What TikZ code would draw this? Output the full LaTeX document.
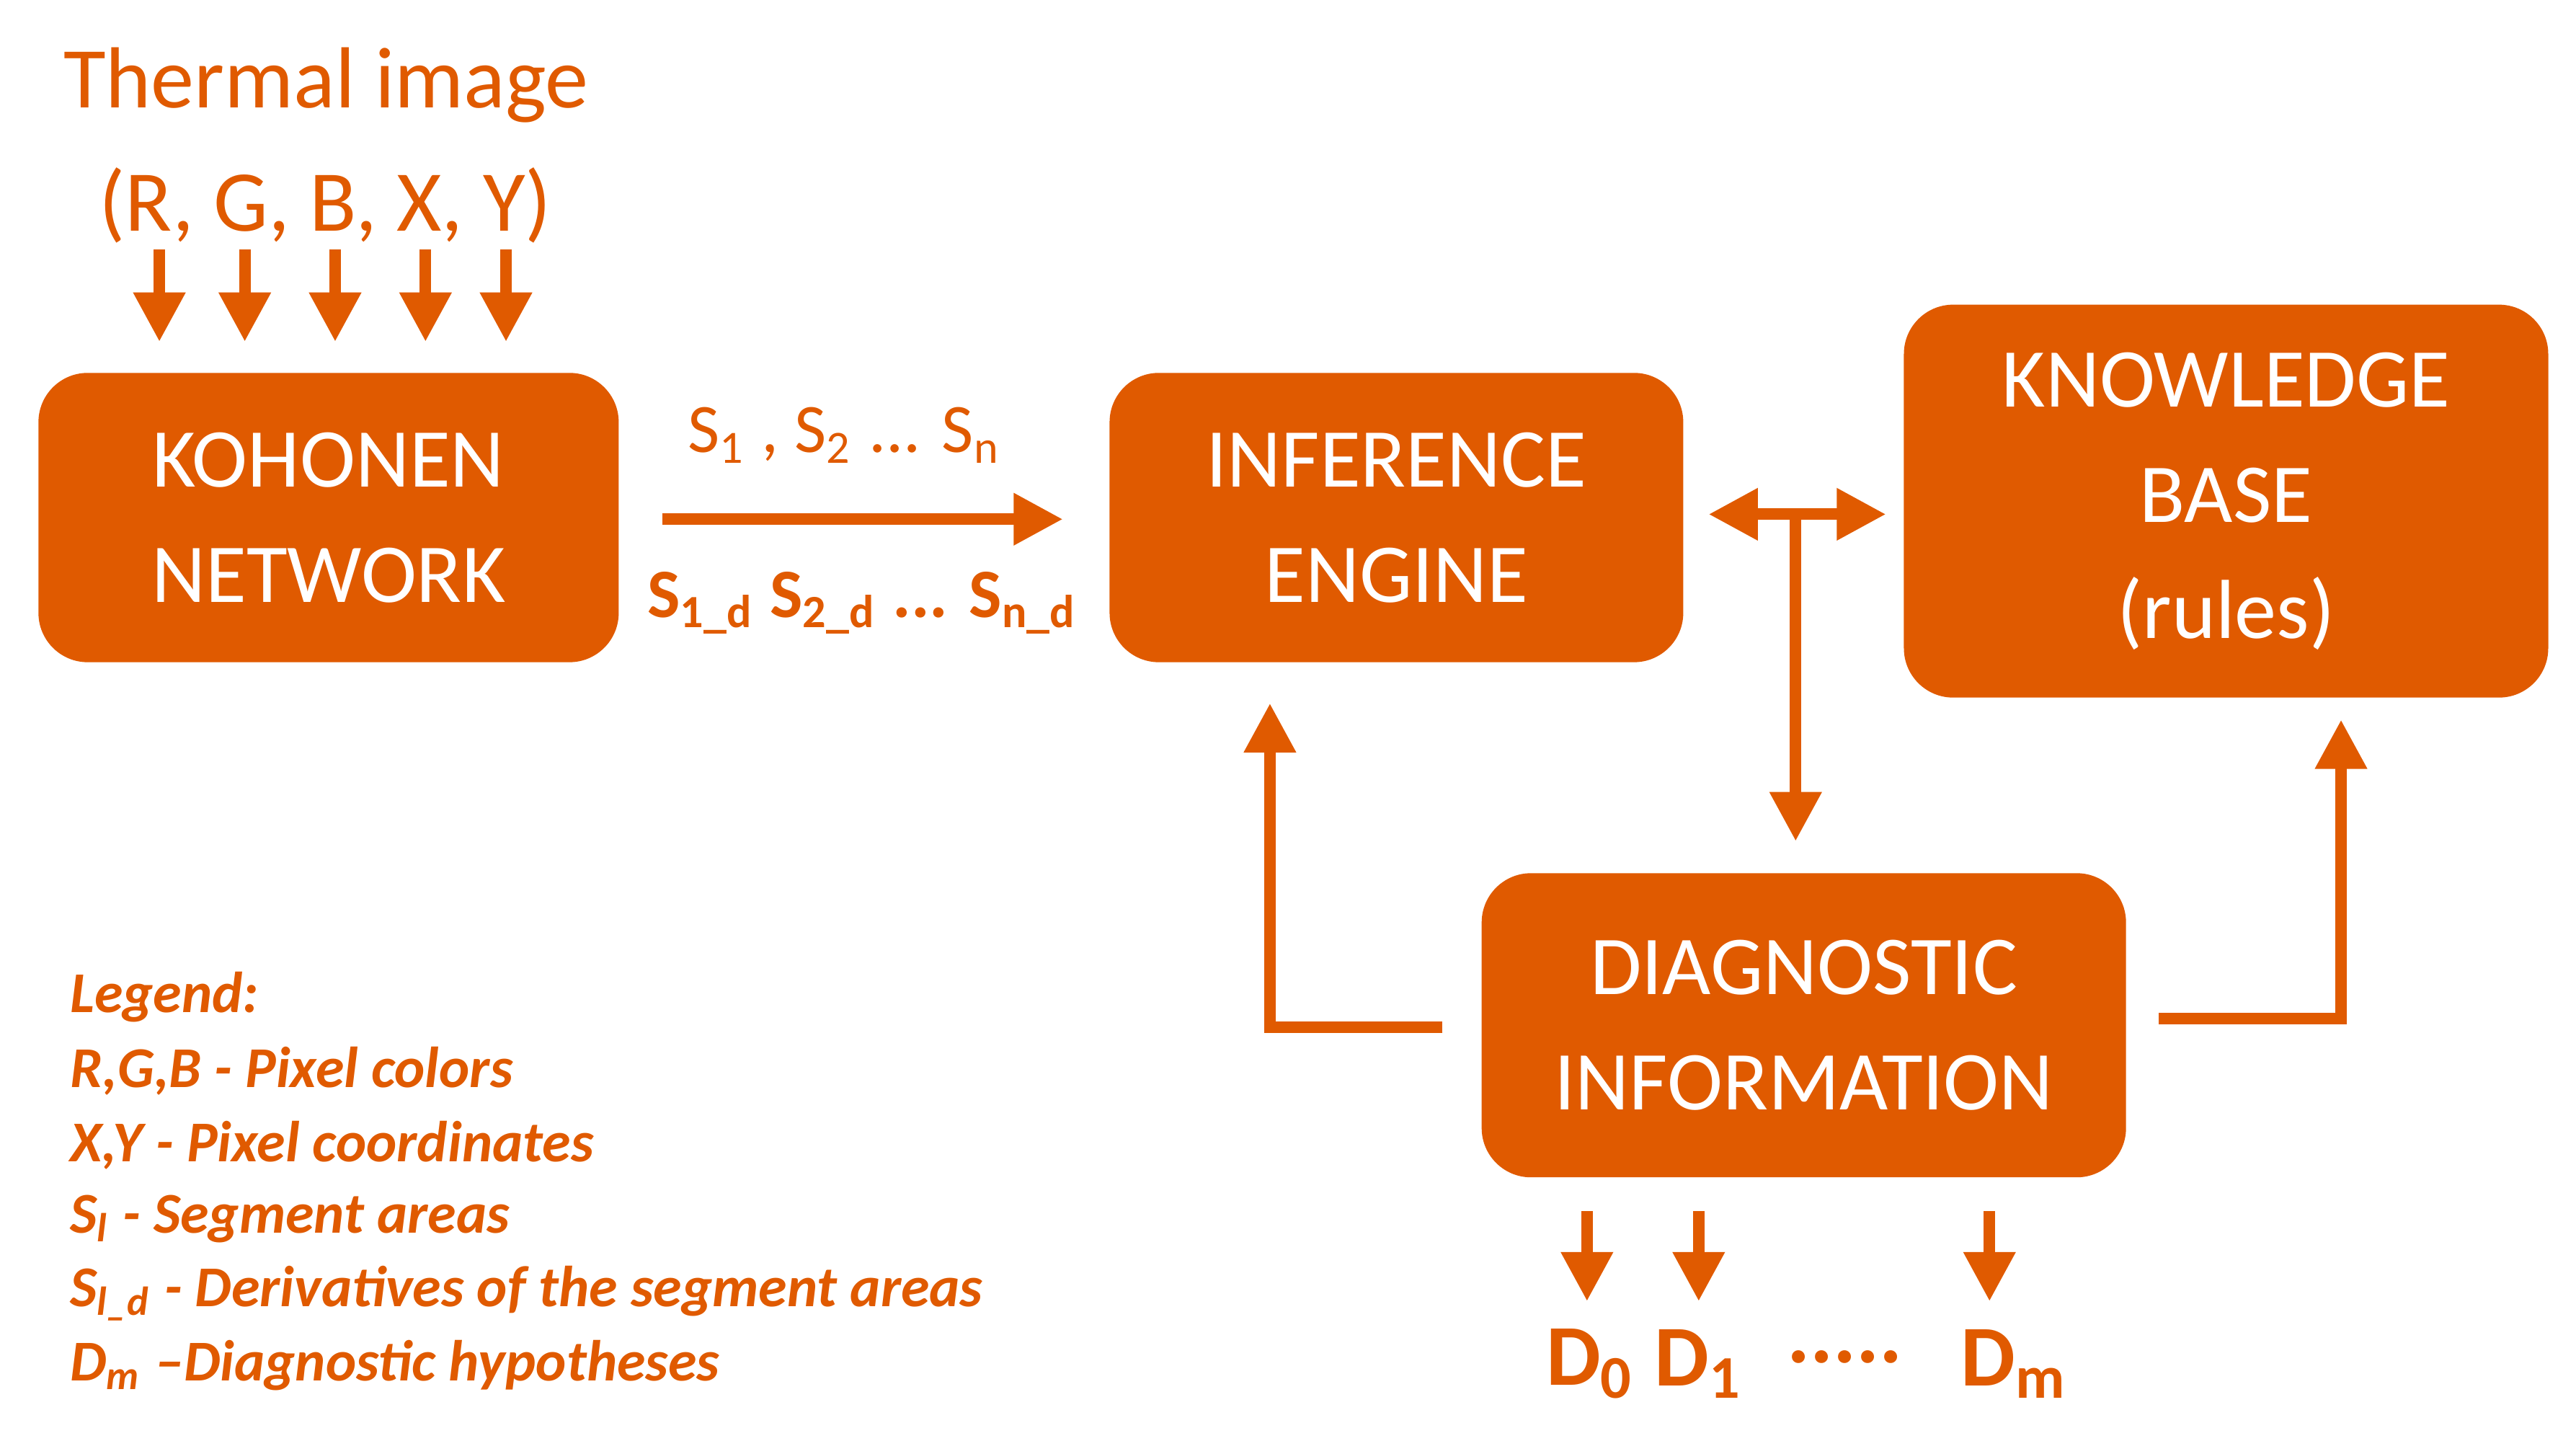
\documentclass[tikz,border=0pt]{standalone}
\usepackage{fontspec}
\setmainfont{Carlito}
\usetikzlibrary{arrows.meta,positioning}
\definecolor{burnt}{RGB}{224,90,0}
\begin{document}
\begin{tikzpicture}[x=0.01cm,y=-0.01cm,
        block/.style={draw=none,fill=burnt,rounded corners=0.3cm,text=white,align=center,
            font=\fontsize{14.5}{20}\selectfont,inner sep=0pt},
        flow/.style={burnt,line width=0.07cm,-{Triangle[width=0.3cm,length=0.3cm]}},
        both/.style={burnt,line width=0.07cm,{Triangle[width=0.3cm,length=0.3cm]}-{Triangle[width=0.3cm,length=0.3cm]}},
        lbl/.style={text=burnt,inner sep=0pt},
        dlbl/.style={lbl,font=\bfseries\fontsize{15}{18}\selectfont},
        legend/.style={lbl,anchor=west,font=\bfseries\itshape\fontsize{10}{12}\selectfont},
        ]
    \useasboundingbox (0,0) rectangle (1568,877);
    % title and inputs
    \node[lbl,anchor=west,font=\fontsize{15}{18}\selectfont] (title) at (38,52) {Thermal image};
    \node[lbl,font=\fontsize{15}{18}\selectfont] (rgb) at (198,125) {(R, G, B, X, Y)};
    \foreach \x [count=\i] in {97,149,204,259,308} {
        \coordinate (in\i) at (\x,152);
        \coordinate (out\i) at (\x,208);
        \draw[flow] (in\i) -- (out\i);
    }
    % blocks
    \node[block,minimum width=3.53cm,minimum height=1.76cm] (kohonen) at (200,315) {KOHONEN\\NETWORK};
    \node[block,minimum width=3.49cm,minimum height=1.76cm] (inference) at (850,315) {INFERENCE\\ENGINE};
    \node[block,minimum width=3.92cm,minimum height=2.39cm] (knowledge) at (1355,305) {KNOWLEDGE\\BASE\\(rules)};
    \node[block,minimum width=3.92cm,minimum height=1.85cm] (diag) at (1098,624) {DIAGNOSTIC\\INFORMATION};
    % kohonen -> inference
    \coordinate (ka) at (403,316);
    \coordinate (kb) at (647,316);
    \draw[flow] (ka) -- (kb);
    \node[lbl,font=\fontsize{12}{14}\selectfont] (sl) at (514,265) {S\textsubscript{1} , S\textsubscript{2} ... S\textsubscript{n}};
    \node[lbl,font=\bfseries\fontsize{12}{14}\selectfont] (sd) at (525,367) {S\textsubscript{1\_d} S\textsubscript{2\_d} ... S\textsubscript{n\_d}};
    % inference <-> knowledge, down to diagnostic
    \coordinate (il) at (1040,313);
    \coordinate (ir) at (1148,313);
    \coordinate (im) at (1093,313);
    \coordinate (id) at (1093,512);
    \draw[both] (il) -- (ir);
    \draw[flow] (im) -- (id);
    % feedback
    \coordinate (fl) at (878,625);
    \coordinate (fc) at (773,625);
    \coordinate (ft) at (773,428);
    \draw[flow] (fl) -- (fc) -- (ft);
    \coordinate (gl) at (1314,620);
    \coordinate (gc) at (1425,620);
    \coordinate (gt) at (1425,438);
    \draw[flow] (gl) -- (gc) -- (gt);
    % outputs
    \foreach \x/\name in {966/d0,1034/d1,1211/dm} {
        \coordinate (\name a) at (\x,737);
        \coordinate (\name b) at (\x,792);
        \draw[flow] (\name a) -- (\name b);
    }
    \node[dlbl] (t0) at (968,830) {D\textsubscript{0}};
    \node[dlbl] (t1) at (1034,830) {D\textsubscript{1}};
    \node[dlbl] (tdots) at (1123,826) {.....};
    \node[dlbl] (tm) at (1226,830) {D\textsubscript{m}};
    % legend
    \node[legend] (lg0) at (42,607) {Legend:};
    \node[legend] (lg1) at (42,652) {R,G,B - Pixel colors};
    \node[legend] (lg2) at (42,697) {X,Y - Pixel coordinates};
    \node[legend] (lg3) at (42,742) {S\textsubscript{l} - Segment areas};
    \node[legend] (lg4) at (42,787) {S\textsubscript{l\_d} - Derivatives of the segment areas};
    \node[legend] (lg5) at (42,831) {D\textsubscript{m} --Diagnostic hypotheses};
\end{tikzpicture}
\end{document}
